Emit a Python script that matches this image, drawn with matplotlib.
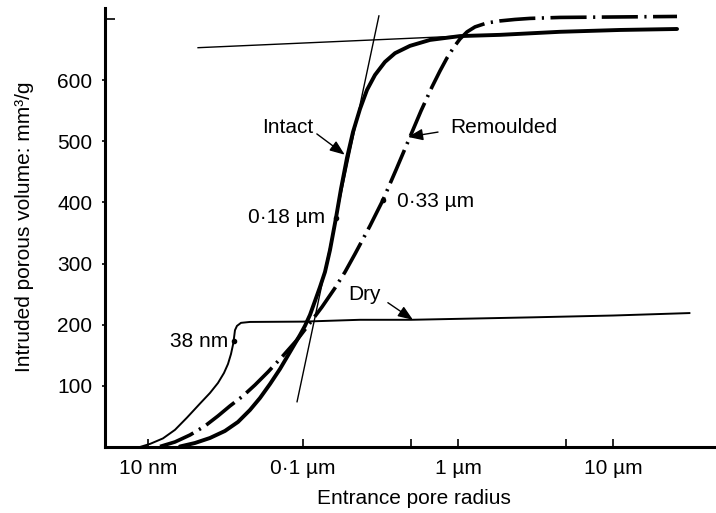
"""Mercury intrusion curves: intruded porous volume vs entrance pore radius."""
import matplotlib
matplotlib.use("Agg")
import matplotlib.pyplot as plt

plt.rcParams["font.family"] = ["Liberation Sans", "DejaVu Sans"]

# entrance pore radius in um, intruded volume in mm3/g
intact_r = [0.01613, 0.02015, 0.02518, 0.03146, 0.03816, 0.0456, 0.0529, 0.0614,
            0.0712, 0.0826, 0.0958, 0.1031, 0.1111, 0.1197, 0.1289, 0.1388, 0.1495,
            0.1634, 0.176, 0.1924, 0.2104, 0.2334, 0.2589, 0.2916, 0.338, 0.3924,
            0.49, 0.6597, 1.03, 1.865, 4.54, 11.07, 25.8]
intact_v = [0.8, 6.5, 14.7, 26.2, 40.9, 60.5, 80.1, 103,
            127.6, 155.4, 183.2, 198, 216, 238.8, 261.7, 286.2, 322,
            374.5, 422, 472.7, 515.2, 552.8, 583.9, 608.4, 629.7, 644,
            656, 665.7, 672, 674, 679, 682, 683.6]

remould_r = [0.012, 0.01498, 0.01872, 0.02338, 0.02835, 0.03389, 0.04109, 0.04911,
             0.05957, 0.0733, 0.09161, 0.1111, 0.1328, 0.161, 0.1867, 0.2167, 0.2706,
             0.3283, 0.3981, 0.49, 0.5771, 0.6794, 0.7651, 0.8487, 0.9418, 1.0294,
             1.142, 1.286, 1.537, 1.864, 2.328, 2.909, 4.542, 11.07, 25.79]
remould_v = [0.8, 8.2, 19.6, 34.3, 50.7, 67.1, 83.4, 101.4,
             122.7, 147.2, 175, 202.8, 229, 260, 286, 315.7, 361.5,
             404, 453, 507, 549.6, 588.8, 615, 636.2, 654.2, 667.3,
             678.8, 687, 693.5, 696.8, 699.2, 700.9, 702.5, 703.3, 704.1]

dry_r = [0.00891, 0.01034, 0.01253, 0.01498, 0.0179, 0.02172, 0.02518, 0.02836,
         0.031, 0.0329, 0.0344, 0.03543, 0.03596, 0.0365, 0.03759, 0.0399, 0.0456,
         0.1, 0.233, 0.5, 3.0, 10.0, 31.0]
dry_v = [0, 5, 14, 28, 48, 71, 88.3, 104.7,
         121, 135.7, 152, 167, 178, 191, 198, 203, 204.5,
         205, 208, 208, 212, 215, 219]

# construction lines (tangents)
steep_r = [0.0917, 0.309]
steep_v = [74, 705]
upper_r = [0.0211, 1.03]
upper_v = [653, 672]

# marked points
mark_r = [0.1634, 0.3283, 0.036]
mark_v = [374.5, 404, 174]

xtick_vals = [0.01, 0.1, 1, 10]
xtick_labels = ["10 nm", "0\u00b71 \u00b5m", "1 \u00b5m", "10 \u00b5m"]
yticks = [100, 200, 300, 400, 500, 600]

FS = 15

fig = plt.figure(figsize=(7.16, 5.13), dpi=100)
ax = fig.add_axes([0.1466, 0.1287, 0.8534, 0.8558])

ax.plot(steep_r, steep_v, color="k", lw=1.0)
ax.plot(upper_r, upper_v, color="k", lw=1.0)
ax.plot(dry_r, dry_v, color="k", lw=1.4)
ax.plot(remould_r, remould_v, color="k", lw=2.6, ls=(0, (10, 1.8, 0.6, 1.8)))
ax.plot(intact_r, intact_v, color="k", lw=2.8, solid_capstyle="round")
ax.plot(mark_r, mark_v, "o", color="k", ms=3)

ax.set_xscale("log")
ax.set_xlim(0.0053, 46)
ax.set_ylim(0, 718)

for s in ["top", "right"]:
    ax.spines[s].set_visible(False)
for s in ["left", "bottom"]:
    ax.spines[s].set_linewidth(2.2)

ax.set_xticks(xtick_vals, xtick_labels)
ax.set_xticks([0.5, 5], minor=True)
ax.xaxis.set_minor_formatter(plt.NullFormatter())
ax.tick_params(axis="x", which="both", direction="in", length=6, width=1.2,
               pad=9, labelsize=FS)
ax.set_yticks(yticks)
ax.set_yticks([700], minor=True)
ax.yaxis.set_minor_formatter(plt.NullFormatter())
ax.tick_params(axis="y", which="major", direction="out", length=2, width=1.2,
               pad=7, labelsize=FS)
ax.tick_params(axis="y", which="minor", direction="in", length=7, width=1.2)

fig.text(414 / 716, 1 - 498 / 513, "Entrance pore radius", fontsize=FS,
         ha="center", va="center")
fig.text(25 / 716, 1 - 227 / 513, "Intruded porous volume: mm\u00b3/g", fontsize=FS,
         ha="center", va="center", rotation=90)

arrow = dict(arrowstyle="-|>,head_length=0.9,head_width=0.35", lw=1.0, color="k",
             shrinkA=0, shrinkB=0)
ax.text(0.116, 522, "Intact", fontsize=FS, ha="right", va="center")
ax.annotate("", xy=(0.186, 478), xytext=(0.123, 512), arrowprops=arrow)
ax.text(0.888, 522, "Remoulded", fontsize=FS, ha="left", va="center")
ax.annotate("", xy=(0.476, 507), xytext=(0.743, 515), arrowprops=arrow)
ax.text(0.195, 249, "Dry", fontsize=FS, ha="left", va="center")
ax.annotate("", xy=(0.512, 208), xytext=(0.353, 236), arrowprops=arrow)
ax.text(0.139, 376, "0\u00b718 \u00b5m", fontsize=FS, ha="right", va="center")
ax.text(0.404, 401, "0\u00b733 \u00b5m", fontsize=FS, ha="left", va="center")
ax.text(0.0329, 172, "38 nm", fontsize=FS, ha="right", va="center")

fig.savefig("out.png", dpi=100)
